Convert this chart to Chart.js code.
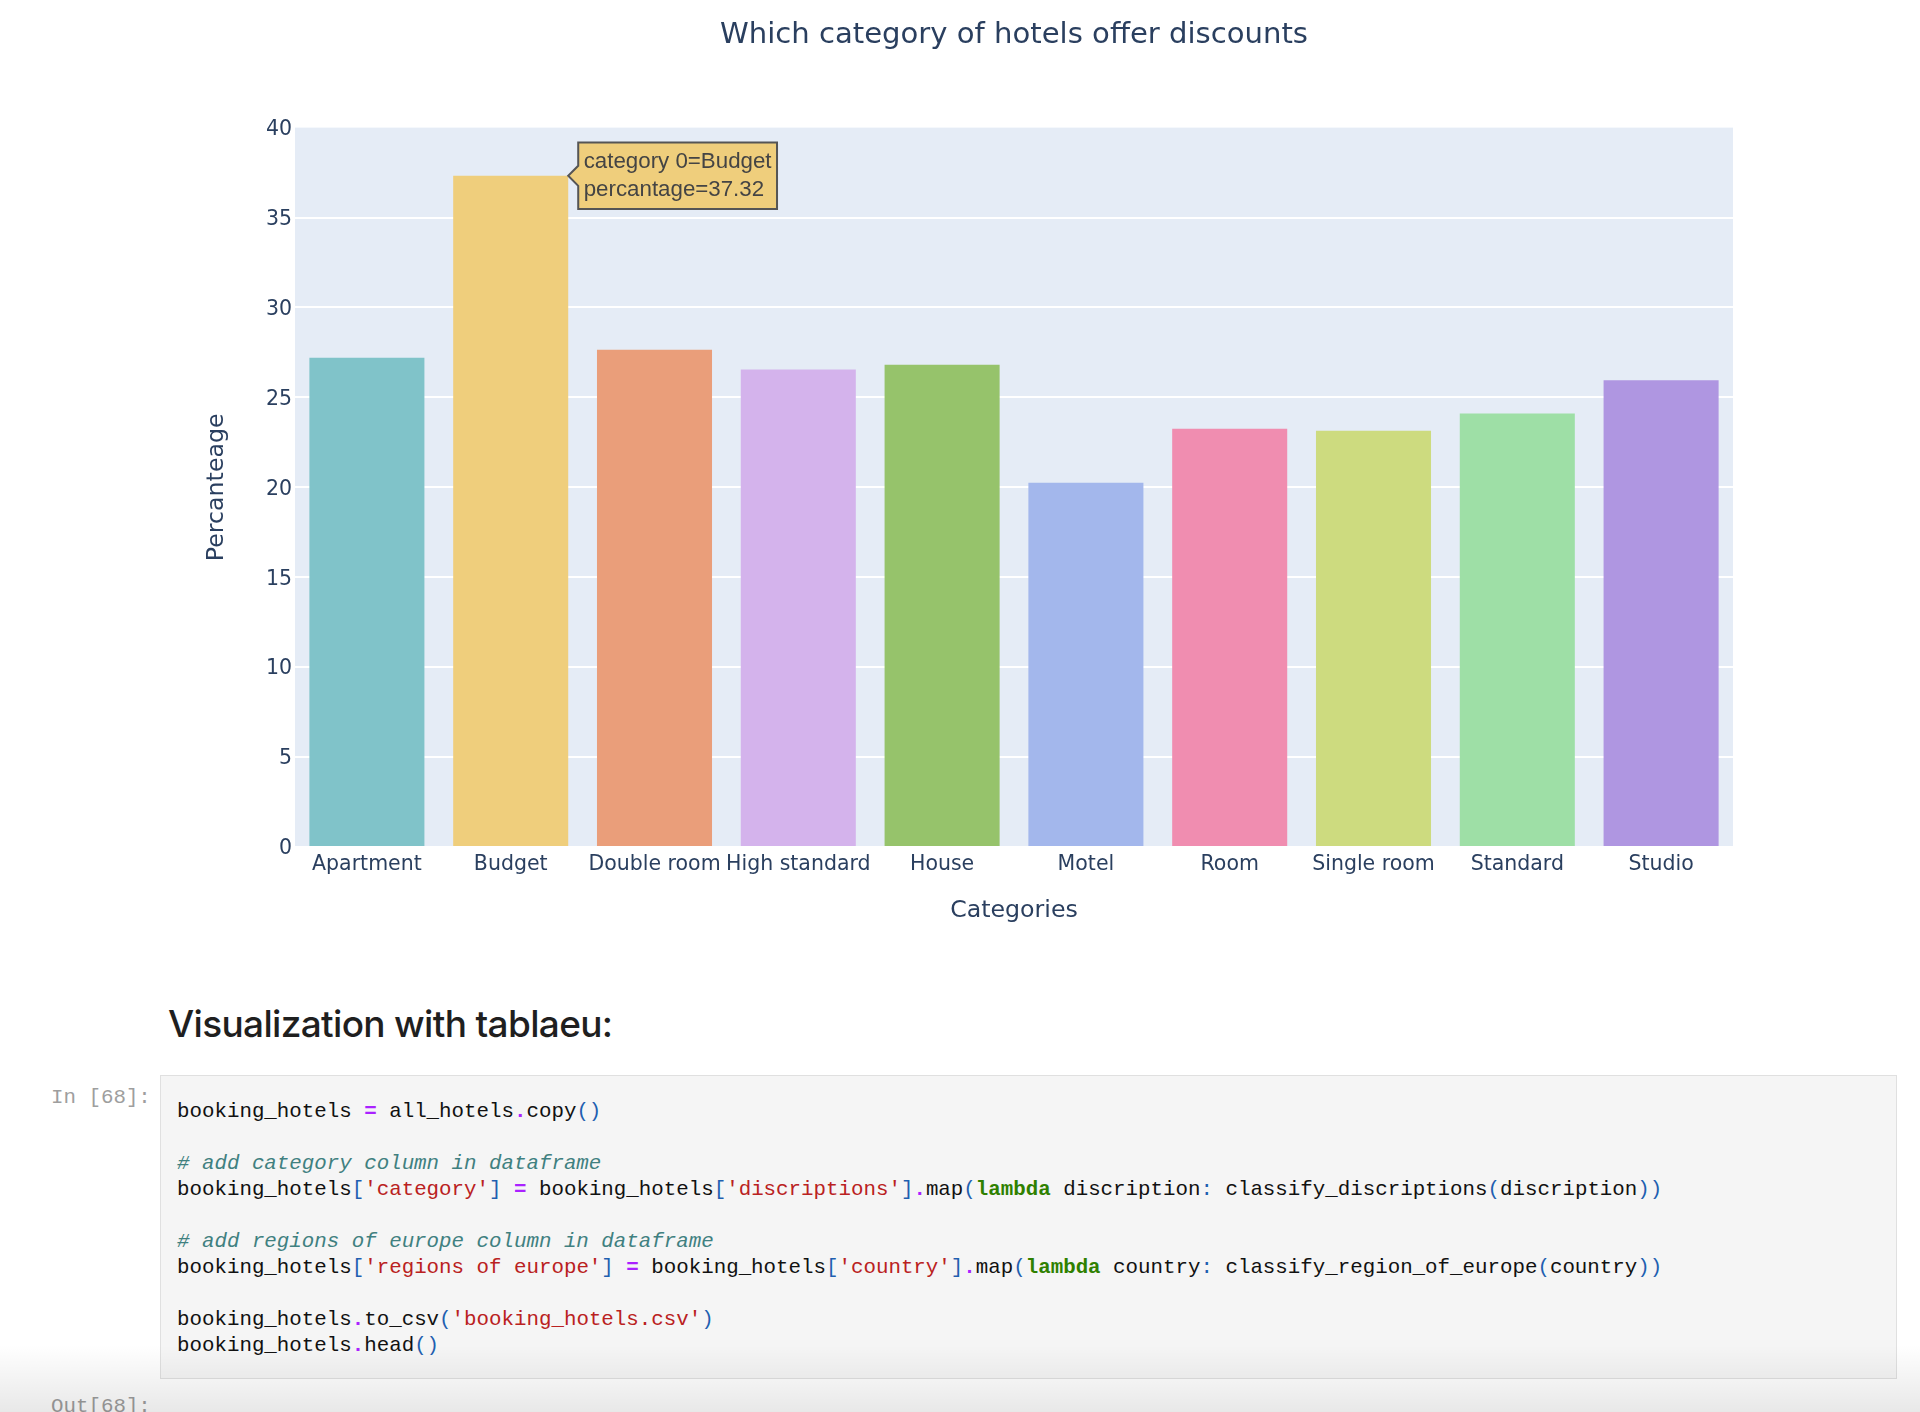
<!DOCTYPE html>
<html>
<head>
<meta charset="utf-8">
<title>Which category of hotels offer discounts</title>
<script src="https://cdn.jsdelivr.net/npm/chart.js@4"></script>
<style>
    html, body { margin: 0; padding: 0; background: #fff; width: 1920px; height: 1412px; overflow: hidden; }
    #basicChart { position: absolute; left: 0; top: 0; }
    #heading { position: absolute; left: 168px; top: 1000px; font: 500 37px/48px Inter, sans-serif; color: #1f1f1f; letter-spacing: -0.67px; white-space: nowrap; }
    .prompt { position: absolute; left: 51px; font: 20.8px/26px "Liberation Mono", monospace; color: #9e9e9e; white-space: pre; }
    #cell { position: absolute; left: 160px; top: 1075px; width: 1735px; height: 302px; background: #f5f5f5; border: 1px solid #e0e0e0; }
    #code { position: absolute; left: 16px; top: 23px; margin: 0; font: 20.8px/26px "Liberation Mono", monospace; color: #111; white-space: pre; }
    .o { color: #aa22ff; font-weight: bold; }
    .p { color: #1f5fb0; }
    .s { color: #ba2121; }
    .c { color: #408080; font-style: italic; }
    .k { color: #2f8000; font-weight: bold; }
    #fade { position: absolute; left: 0; top: 1345px; width: 1920px; height: 67px; background: linear-gradient(rgba(0,0,0,0), rgba(0,0,0,0.09)); }
</style>
</head>
<body>
<canvas id="basicChart" width="1920" height="960"></canvas>
<div id="heading">Visualization with tablaeu:</div>
<div class="prompt" style="top:1085px">In [68]:</div>
<div id="cell"><pre id="code">booking_hotels <span class="o">=</span> all_hotels<span class="o">.</span>copy<span class="p">()</span>

<span class="c"># add category column in dataframe</span>
booking_hotels<span class="p">[</span><span class="s">'category'</span><span class="p">]</span> <span class="o">=</span> booking_hotels<span class="p">[</span><span class="s">'discriptions'</span><span class="p">]</span><span class="o">.</span>map<span class="p">(</span><span class="k">lambda</span> discription<span class="p">:</span> classify_discriptions<span class="p">(</span>discription<span class="p">))</span>

<span class="c"># add regions of europe column in dataframe</span>
booking_hotels<span class="p">[</span><span class="s">'regions of europe'</span><span class="p">]</span> <span class="o">=</span> booking_hotels<span class="p">[</span><span class="s">'country'</span><span class="p">]</span><span class="o">.</span>map<span class="p">(</span><span class="k">lambda</span> country<span class="p">:</span> classify_region_of_europe<span class="p">(</span>country<span class="p">))</span>

booking_hotels<span class="o">.</span>to_csv<span class="p">(</span><span class="s">'booking_hotels.csv'</span><span class="p">)</span>
booking_hotels<span class="o">.</span>head<span class="p">()</span></pre></div>
<div class="prompt" style="top:1394px">Out[68]:</div>
<div id="fade"></div>

<script>
const categories = ["Apartment", "Budget", "Double room", "High standard", "House", "Motel", "Room", "Single room", "Standard", "Studio"];
const percentages = [27.2, 37.32, 27.65, 26.55, 26.82, 20.25, 23.25, 23.15, 24.1, 25.95];
const barColors = ["#80c3c9", "#efce7c", "#ea9e7a", "#d4b3ec", "#96c36b", "#a3b7ec", "#f08db0", "#cddb7f", "#9edfa6", "#af96e1"];
const yTicks = [0, 5, 10, 15, 20, 25, 30, 35, 40];
const hoverIndex = 1;       //the bar with the tooltip open

const textColor = "#2a3f5f";
const axisFont = "'DejaVu Sans', sans-serif";

//paints the blue-grey plot background behind the grid
const plotBackground = {
    id: "plotBackground",
    beforeDraw(chart) {
        const a = chart.chartArea;
        chart.ctx.save();
        chart.ctx.fillStyle = "#e5ecf6";
        chart.ctx.fillRect(a.left, a.top, a.right - a.left, a.bottom - a.top);
        chart.ctx.restore();
    }
};

//tooltip sits at the top right corner of the bar
Chart.Tooltip.positioners.barCorner = function (items) {
    if (!items.length) return false;
    const el = items[0].element;
    return { x: el.x + el.width / 2, y: el.y };
};

const chart1 = document.getElementById("basicChart");

const discountGraph = new Chart(chart1, {
    type: "bar",
    data: {
        labels: categories,
        datasets: [{
            label: "percantage",
            data: percentages,
            backgroundColor: barColors,
            borderWidth: 0,
            barPercentage: 0.8,
            categoryPercentage: 1
        }]
    },
    plugins: [plotBackground],
    options: {
        responsive: false,
        animation: false,
        events: [],
        layout: { padding: { left: 203, right: 187, top: 0, bottom: 35 } },
        plugins: {
            legend: { display: false },
            title: {
                display: true,
                text: "Which category of hotels offer discounts",
                fullSize: false,
                color: textColor,
                font: { family: axisFont, size: 29.1, weight: "normal" },
                padding: { top: 17.5, bottom: 75.2 }
            },
            tooltip: {
                enabled: true,
                animation: false,
                position: "barCorner",
                xAlign: "left",
                yAlign: "center",
                backgroundColor: "#efce7c",
                borderColor: "#555555",
                borderWidth: 2,
                cornerRadius: 0,
                caretSize: 10,
                caretPadding: 0,
                displayColors: false,
                padding: { x: 5.5, y: 5.5 },
                bodyColor: "#444444",
                bodyFont: { family: "'Liberation Sans', sans-serif", size: 22.3 },
                bodySpacing: 2,
                callbacks: {
                    title: () => "",
                    label: ctx => ["category 0=" + ctx.label, "percantage=" + ctx.parsed.y]
                }
            }
        },
        scales: {
            x: {
                afterFit: s => { s.height = 78; },
                grid: { display: false, drawTicks: false },
                border: { display: false },
                ticks: {
                    autoSkip: false, minRotation: 0, maxRotation: 0, padding: 5,
                    color: textColor,
                    font: { family: axisFont, size: 20.5 }
                },
                title: {
                    display: true, text: "Categories", color: textColor, padding: 0,
                    font: { family: axisFont, size: 23.7 }
                }
            },
            y: {
                min: 0,
                max: 40,
                afterFit: s => { s.width = 92; },
                afterBuildTicks: s => { s.ticks = yTicks.map(v => ({ value: v })); },
                grid: {
                    color: ctx => ctx.tick && ctx.tick.value === 40 ? "rgba(255,255,255,0)" : "#ffffff",    //no white line along the top edge
                    lineWidth: 2,
                    drawTicks: false
                },
                border: { display: false },
                ticks: {
                    padding: 3,
                    labelOffset: 2,
                    color: textColor,
                    font: { family: axisFont, size: 20.5 }
                },
                title: {
                    display: true, text: "Percanteage", color: textColor, padding: 0,
                    font: { family: axisFont, size: 23.7 }
                }
            }
        }
    }
});

discountGraph.tooltip.setActiveElements([{ datasetIndex: 0, index: hoverIndex }], { x: 0, y: 0 });
discountGraph.draw();
</script>
</body>
</html>
